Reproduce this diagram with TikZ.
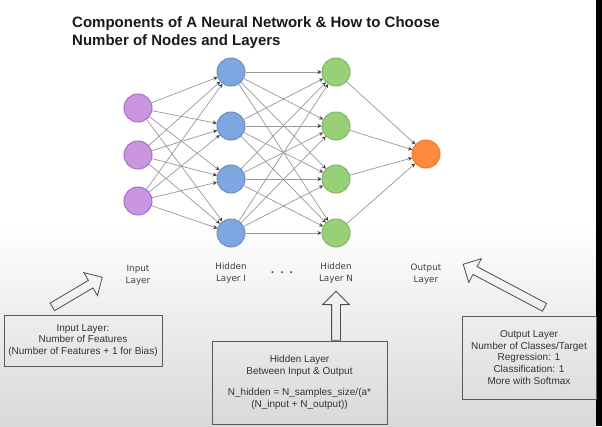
\documentclass[tikz,border=0pt]{standalone}
\usepackage{fontspec}
\setmainfont{Liberation Sans}
\newfontfamily\layerfont{DejaVu Sans}
\usepackage{xcolor}
\usetikzlibrary{arrows.meta,positioning,shapes.arrows}
\definecolor{inFill}{HTML}{CB96E0}
\definecolor{inDraw}{HTML}{A86CC9}
\definecolor{hidFill}{HTML}{7EA6E0}
\definecolor{hidDraw}{HTML}{6C8EBF}
\definecolor{nFill}{HTML}{97D077}
\definecolor{nDraw}{HTML}{82B366}
\definecolor{outFill}{HTML}{FF8A3D}
\definecolor{outDraw}{HTML}{F07A2A}

\begin{document}
\begin{tikzpicture}[
  x=1pt,y=-1pt,
  neuron/.style={circle,draw,line width=1pt,minimum size=28pt,inner sep=0pt},
  edge/.style={draw=black!40,line width=0.7pt,-{Stealth[length=4pt,width=4pt,color=black!75]}},
  layerlbl/.style={font=\layerfont\fontsize{8.8}{12}\selectfont,text=black!75,align=center},
  infobox/.style={rectangle,draw=black!65,line width=0.8pt,align=center,inner sep=0pt,
                  font=\fontsize{10}{11.7}\selectfont,text=black!80},
  hollow/.style={single arrow,draw=black!70,line width=0.8pt,inner xsep=0pt,inner ysep=4pt,
                 minimum width=0pt,single arrow head extend=9pt}
]
\useasboundingbox (0,0) rectangle (602,426);
% background
\fill[white] (0,0) rectangle (602,426);
\shade[top color=white,middle color=black!8,bottom color=black!15] (0,225) rectangle (596,426);
\fill[black] (596,0) rectangle (602,426);
% title
\node[anchor=north west,inner sep=0pt,align=left,text=black!90,
      font=\bfseries\fontsize{15}{18}\selectfont] (title) at (72,16)
  {Components of A Neural Network \& How to Choose\\Number of Nodes and Layers};
% layers
\foreach \k/\y in {1/108,2/155,3/201}
  \node[neuron,fill=inFill,draw=inDraw] (i\k) at (138,\y) {};
\foreach \k/\y in {1/72,2/126,3/179,4/233}{
  \node[neuron,fill=hidFill,draw=hidDraw] (h\k) at (231,\y) {};
  \node[neuron,fill=nFill,draw=nDraw] (n\k) at (336,\y) {};
}
\node[neuron,fill=outFill,draw=outDraw] (o1) at (426,154) {};
% connections
\foreach \a in {1,2,3}
  \foreach \b in {1,...,4}
    \draw[edge] (i\a) -- (h\b);
\foreach \a in {1,...,4}{
  \foreach \b in {1,...,4}
    \draw[edge] (h\a) -- (n\b);
  \draw[edge] (n\a) -- (o1);
}
% layer labels
\node[layerlbl] (iLbl) at (138,275) {Input\\Layer};
\node[layerlbl] (hLbl) at (231,273.5) {Hidden\\Layer I};
\node[layerlbl,font=\layerfont\bfseries\fontsize{9}{12}\selectfont] (dots) at (282,273) {.\hspace{6pt}.\hspace{6pt}.};
\node[layerlbl] (nLbl) at (336,273.5) {Hidden\\Layer N};
\node[layerlbl] (oLbl) at (426,274.5) {Output\\Layer};
% explanation boxes
\node[infobox,minimum width=158pt,minimum height=51pt] (inBox) at (83,340.5)
  {Input Layer:\\Number of Features\\(Number of Features + 1 for Bias)};
\node[infobox,minimum width=175pt,minimum height=83pt] (hidBox) at (299.5,382.5)
  {Hidden Layer\\Between Input \& Output\\[10pt]N\_hidden = N\_samples\_size/(a*\\(N\_input + N\_output))};
\node[infobox,minimum width=134pt,minimum height=83pt] (outBox) at (529,357.5)
  {Output Layer\\Number of Classes/Target\\Regression: 1\\Classification: 1\\More with Softmax};
% pointers
\node[hollow,minimum height=58pt,rotate=30.7,anchor=tip] (inArr) at (102.7,277) {};
\node[hollow,minimum height=49pt,rotate=90,anchor=tail] (hidArr) at (hidBox.north -| nLbl) {};
\node[hollow,minimum height=92pt,rotate=152.1,anchor=tip] (outArr) at (462.7,264) {};
\end{tikzpicture}
\end{document}
